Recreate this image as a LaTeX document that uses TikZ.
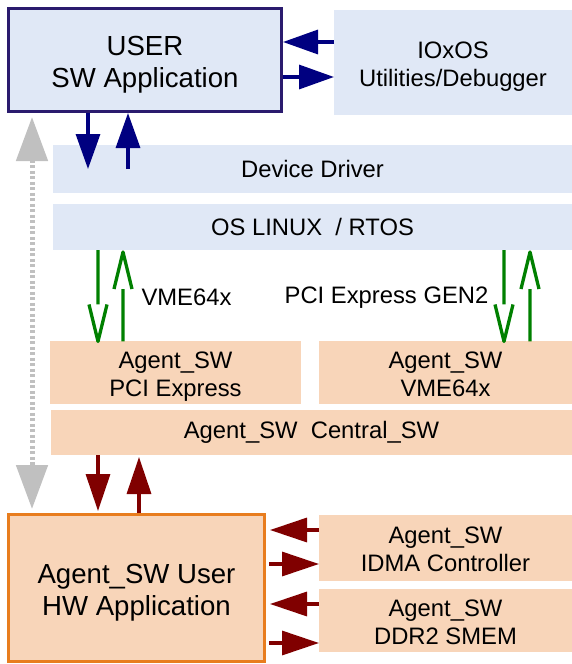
\documentclass[tikz,border=0pt]{standalone}
\usepackage{fontspec}
\setmainfont{Liberation Sans}
\usetikzlibrary{arrows.meta,calc}
\definecolor{lblue}{HTML}{E0E8F6}
\definecolor{peach}{HTML}{F8D5B9}
\definecolor{navyc}{HTML}{000080}
\definecolor{userb}{HTML}{2A1B6E}
\definecolor{orng}{HTML}{E87D1E}
\definecolor{dred}{HTML}{800000}
\definecolor{dgreen}{HTML}{008000}
\definecolor{lgray}{HTML}{C0C0C0}
\newcommand{\mytwo}[2]{\rule{0pt}{1.13em}#1\\#2\rule[-0.3em]{0pt}{0.3em}}
\begin{document}
\begin{tikzpicture}[x=1pt,y=-1pt,
  box/.style={inner sep=0pt, align=center, font=\fontsize{23.8}{28}\selectfont},
  bluebox/.style={box, fill=lblue, outer sep=0pt},
  peachbox/.style={box, fill=peach, outer sep=0pt},
  bigfont/.style={font=\fontsize{27.6}{32}\selectfont},
  lbl/.style={inner sep=0pt, font=\fontsize{23.8}{28}\selectfont},
  navyarrow/.style={draw=navyc, line width=3.3pt, -{Triangle[length=35pt,width=24pt]}, navyc},
  redarrow/.style={draw=dred, line width=3.3pt, -{Triangle[length=37pt,width=24pt]}, dred},
  gline/.style={draw=dgreen, line width=3.3pt, line join=round},
  vto/.style={to path={ -- ($(\tikztotarget)!37pt!(\tikztostart)$)
      ($(\tikztotarget)!37pt!(\tikztostart)+(-9,0)$) -- (\tikztotarget)
      -- ($(\tikztotarget)!37pt!(\tikztostart)+(9,0)$)}},
  grayarrow/.style={draw=lgray, line width=5pt, dash pattern=on 3pt off 2.5pt,
      {Triangle[length=44pt,width=31pt]}-{Triangle[length=44pt,width=31pt]}, lgray}
]
\useasboundingbox (0,0) rectangle (572,664);

% boxes
\node[box, bigfont, fill=lblue, draw=userb, line width=3pt, minimum width=273, minimum height=103] (user) at (145,60) {\mytwo{USER}{SW Application}};
\node[bluebox, minimum width=238, minimum height=105] (iox) at (453,62.5) {\mytwo{IOxOS}{Utilities/Debugger}};
\node[bluebox, minimum width=519, minimum height=48] (dd) at (312.5,169) {Device Driver};
\node[bluebox, minimum width=519, minimum height=46] (os) at (312.5,227) {OS LINUX\ \ / RTOS};
\node[peachbox, minimum width=251, minimum height=61] (pcie) at (175.5,372.5) {\mytwo{Agent\_SW}{PCI Express}};
\node[peachbox, minimum width=253, minimum height=61] (vme) at (445.5,372.5) {\mytwo{Agent\_SW}{VME64x}};
\node[peachbox, minimum width=521, minimum height=45] (central) at (311.5,432.5) {Agent\_SW\ \ Central\_SW};
\node[box, bigfont, fill=peach, draw=orng, line width=3pt, minimum width=256, minimum height=147] (hw) at (136.5,588) {\mytwo{Agent\_SW User}{HW Application}};
\node[peachbox, minimum width=253, minimum height=66] (idma) at (445.5,548) {\mytwo{Agent\_SW}{IDMA Controller}};
\node[peachbox, minimum width=253, minimum height=61] (ddr) at (445.5,620.5) {\mytwo{Agent\_SW}{DDR2 SMEM}};

% labels
\node[lbl] (lvme) at (186.5,297.5) {VME64x};
\node[lbl] (lpci) at (386.5,297.5) {PCI Express GEN2};

% helper columns/rows
\coordinate (xg) at (32,0);
\coordinate (xn1) at (88,0);
\coordinate (xn2) at (128,0);
\coordinate (xg1) at (98,0);
\coordinate (xg2) at (123,0);
\coordinate (xg3) at (504,0);
\coordinate (xg4) at (530,0);
\coordinate (xr1) at (98,0);
\coordinate (xr2) at (139,0);
\coordinate (y1) at (0,42);
\coordinate (y2) at (0,77);
\coordinate (y3) at (0,530);
\coordinate (y4) at (0,564);
\coordinate (y5) at (0,604);
\coordinate (y6) at (0,643);

% navy connectors
\draw[navyarrow] (iox.west |- y1) -- (user.east |- y1);
\draw[navyarrow] (user.east |- y2) -- (iox.west |- y2);
\draw[navyarrow] (user.south -| xn1) -- (dd.center -| xn1);
\draw[navyarrow] (dd.center -| xn2) -- (user.south -| xn2);

% green connectors
\draw[gline, vto] (os.south -| xg1) to (pcie.north -| xg1);
\draw[gline, vto] (pcie.north -| xg2) to ([yshift=-2pt]os.south -| xg2);
\draw[gline, vto] (os.south -| xg3) to (vme.north -| xg3);
\draw[gline, vto] (vme.north -| xg4) to ([yshift=-2pt]os.south -| xg4);

% red connectors
\draw[redarrow, shorten >=2pt] (central.south -| xr1) -- (hw.north -| xr1);
\draw[redarrow, shorten >=2pt] (hw.north -| xr2) -- (central.south -| xr2);
\draw[redarrow, shorten >=4pt] (idma.west |- y3) -- (hw.east |- y3);
\draw[redarrow, shorten <=3pt] (hw.east |- y4) -- (idma.west |- y4);
\draw[redarrow, shorten >=4pt] (ddr.west |- y5) -- (hw.east |- y5);
\draw[redarrow, shorten <=3pt] (hw.east |- y6) -- (ddr.west |- y6);

% gray dotted double arrow
\draw[grayarrow, shorten <=4pt, shorten >=4pt] (user.south -| xg) -- (hw.north -| xg);
\end{tikzpicture}
\end{document}
